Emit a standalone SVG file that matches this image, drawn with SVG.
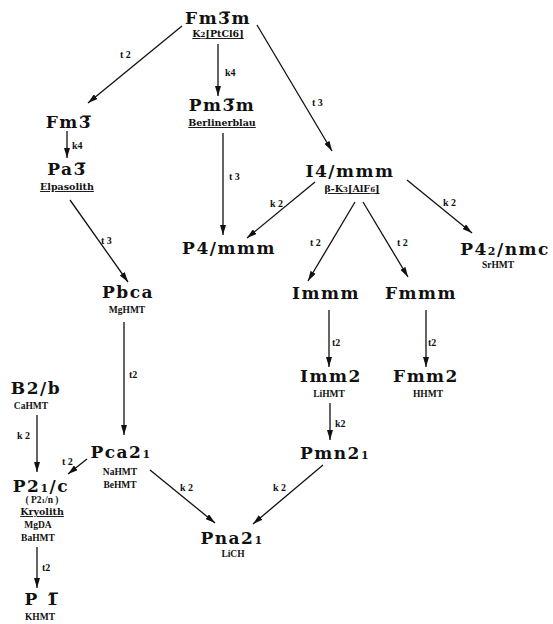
<svg xmlns="http://www.w3.org/2000/svg" width="553" height="624" viewBox="0 0 553 624">
<style>
.n{font-family:"DejaVu Serif",serif;font-weight:bold;font-size:17px;letter-spacing:1.5px;text-anchor:middle;fill:#111}
.s{font-family:"Liberation Serif",serif;font-weight:bold;font-size:9.5px;text-anchor:middle;fill:#111}
.u{font-family:"DejaVu Serif",serif;font-weight:bold;font-size:9.5px;text-decoration:underline;text-anchor:middle;fill:#111}
.e{font-family:"Liberation Serif",serif;font-weight:bold;font-size:10px;fill:#111}
.sm{font-size:11px}
.su{font-size:7px}
.c line{stroke:#111;stroke-width:1.3;marker-end:url(#ah)}
</style>
<defs>
<marker id="ah" viewBox="0 0 10 6" refX="10" refY="3" markerWidth="10" markerHeight="6" markerUnits="userSpaceOnUse" orient="auto"><path d="M0,0 L10,3 L0,6 z" fill="#111"/></marker>
</defs>
<rect width="553" height="624" fill="#fff"/>
<g class="c" id="connectors">
<line x1="182" y1="26" x2="88" y2="103"/>
<line x1="218" y1="44" x2="218" y2="96"/>
<line x1="257" y1="25" x2="332" y2="151"/>
<line x1="67" y1="131" x2="67" y2="158"/>
<line x1="70" y1="200" x2="128" y2="282"/>
<line x1="223" y1="133" x2="223" y2="235"/>
<line x1="315" y1="182" x2="247" y2="238"/>
<line x1="355" y1="202" x2="308" y2="281"/>
<line x1="363" y1="202" x2="408" y2="277"/>
<line x1="407" y1="180" x2="472" y2="233"/>
<line x1="124" y1="322" x2="124" y2="435"/>
<line x1="329" y1="310" x2="329" y2="367"/>
<line x1="426" y1="310" x2="426" y2="367"/>
<line x1="330" y1="403" x2="330" y2="440"/>
<line x1="37" y1="415" x2="37" y2="472"/>
<line x1="87" y1="459" x2="68" y2="474"/>
<line x1="150" y1="470" x2="215" y2="523"/>
<line x1="323" y1="465" x2="253" y2="524"/>
<line x1="37" y1="547" x2="37" y2="588"/>
<text class="e" x="120" y="58">t 2</text>
<text class="e" x="225" y="76">k4</text>
<text class="e" x="312" y="106">t 3</text>
<text class="e" x="72" y="149">k4</text>
<text class="e" x="101" y="244">t 3</text>
<text class="e" x="229" y="180">t 3</text>
<text class="e" x="270" y="207">k 2</text>
<text class="e" x="310" y="246">t 2</text>
<text class="e" x="397" y="246">t 2</text>
<text class="e" x="443" y="206">k 2</text>
<text class="e" x="129" y="378">t2</text>
<text class="e" x="332" y="346">t2</text>
<text class="e" x="428" y="346">t2</text>
<text class="e" x="335" y="427">k2</text>
<text class="e" x="17" y="439">k 2</text>
<text class="e" x="62" y="465">t 2</text>
<text class="e" x="180" y="491">k 2</text>
<text class="e" x="273" y="491">k 2</text>
<text class="e" x="42" y="571">t2</text>
</g>
<g id="Fm3m"><text class="n" x="218" y="24">Fm3&#x305;m</text><text class="u" x="218" y="37">K<tspan class="su">2</tspan>[PtCl6]</text></g>
<g id="Fm3"><text class="n" x="69" y="128">Fm3&#x305;</text></g>
<g id="Pa3"><text class="n" x="67" y="175">Pa3&#x305;</text><text class="u" x="67" y="190">Elpasolith</text></g>
<g id="Pm3m"><text class="n" x="222" y="111">Pm3&#x305;m</text><text class="u" x="222" y="126">Berlinerblau</text></g>
<g id="I4mmm"><text class="n" x="350" y="177">I4/mmm</text><text class="u" x="352" y="192">β-K<tspan class="su">3</tspan>[AlF<tspan class="su">6</tspan>]</text></g>
<g id="P4mmm"><text class="n" x="229" y="254">P4/mmm</text></g>
<g id="P42nmc"><text class="n" x="505" y="255">P4<tspan class="sm">2</tspan>/nmc</text><text class="s" x="498" y="268">SrHMT</text></g>
<g id="Pbca"><text class="n" x="128" y="298">Pbca</text><text class="s" x="127" y="313">MgHMT</text></g>
<g id="Immm"><text class="n" x="326" y="299">Immm</text></g>
<g id="Fmmm"><text class="n" x="421" y="299">Fmmm</text></g>
<g id="B2b"><text class="n" x="36" y="394">B2/b</text><text class="s" x="31" y="409">CaHMT</text></g>
<g id="Imm2"><text class="n" x="331" y="382">Imm2</text><text class="s" x="329" y="397">LiHMT</text></g>
<g id="Fmm2"><text class="n" x="426" y="382">Fmm2</text><text class="s" x="428" y="397">HHMT</text></g>
<g id="Pca21"><text class="n" x="121" y="458">Pca2<tspan class="sm">1</tspan></text><text class="s" x="120" y="475">NaHMT</text><text class="s" x="120" y="488">BeHMT</text></g>
<g id="Pmn21"><text class="n" x="335" y="459">Pmn2<tspan class="sm">1</tspan></text></g>
<g id="P21c"><text class="n" x="41" y="492">P2<tspan class="sm">1</tspan>/c</text><text class="s" x="42" y="503">( P2<tspan class="su">1</tspan>/n )</text><text class="u" x="42" y="515">Kryolith</text><text class="s" x="38" y="528">MgDA</text><text class="s" x="38" y="541">BaHMT</text></g>
<g id="Pna21"><text class="n" x="232" y="544">Pna2<tspan class="sm">1</tspan></text><text class="s" x="233" y="557">LiCH</text></g>
<g id="P1"><text class="n" x="42" y="605">P 1&#x305;</text><text class="s" x="40" y="620">KHMT</text></g>
</svg>
